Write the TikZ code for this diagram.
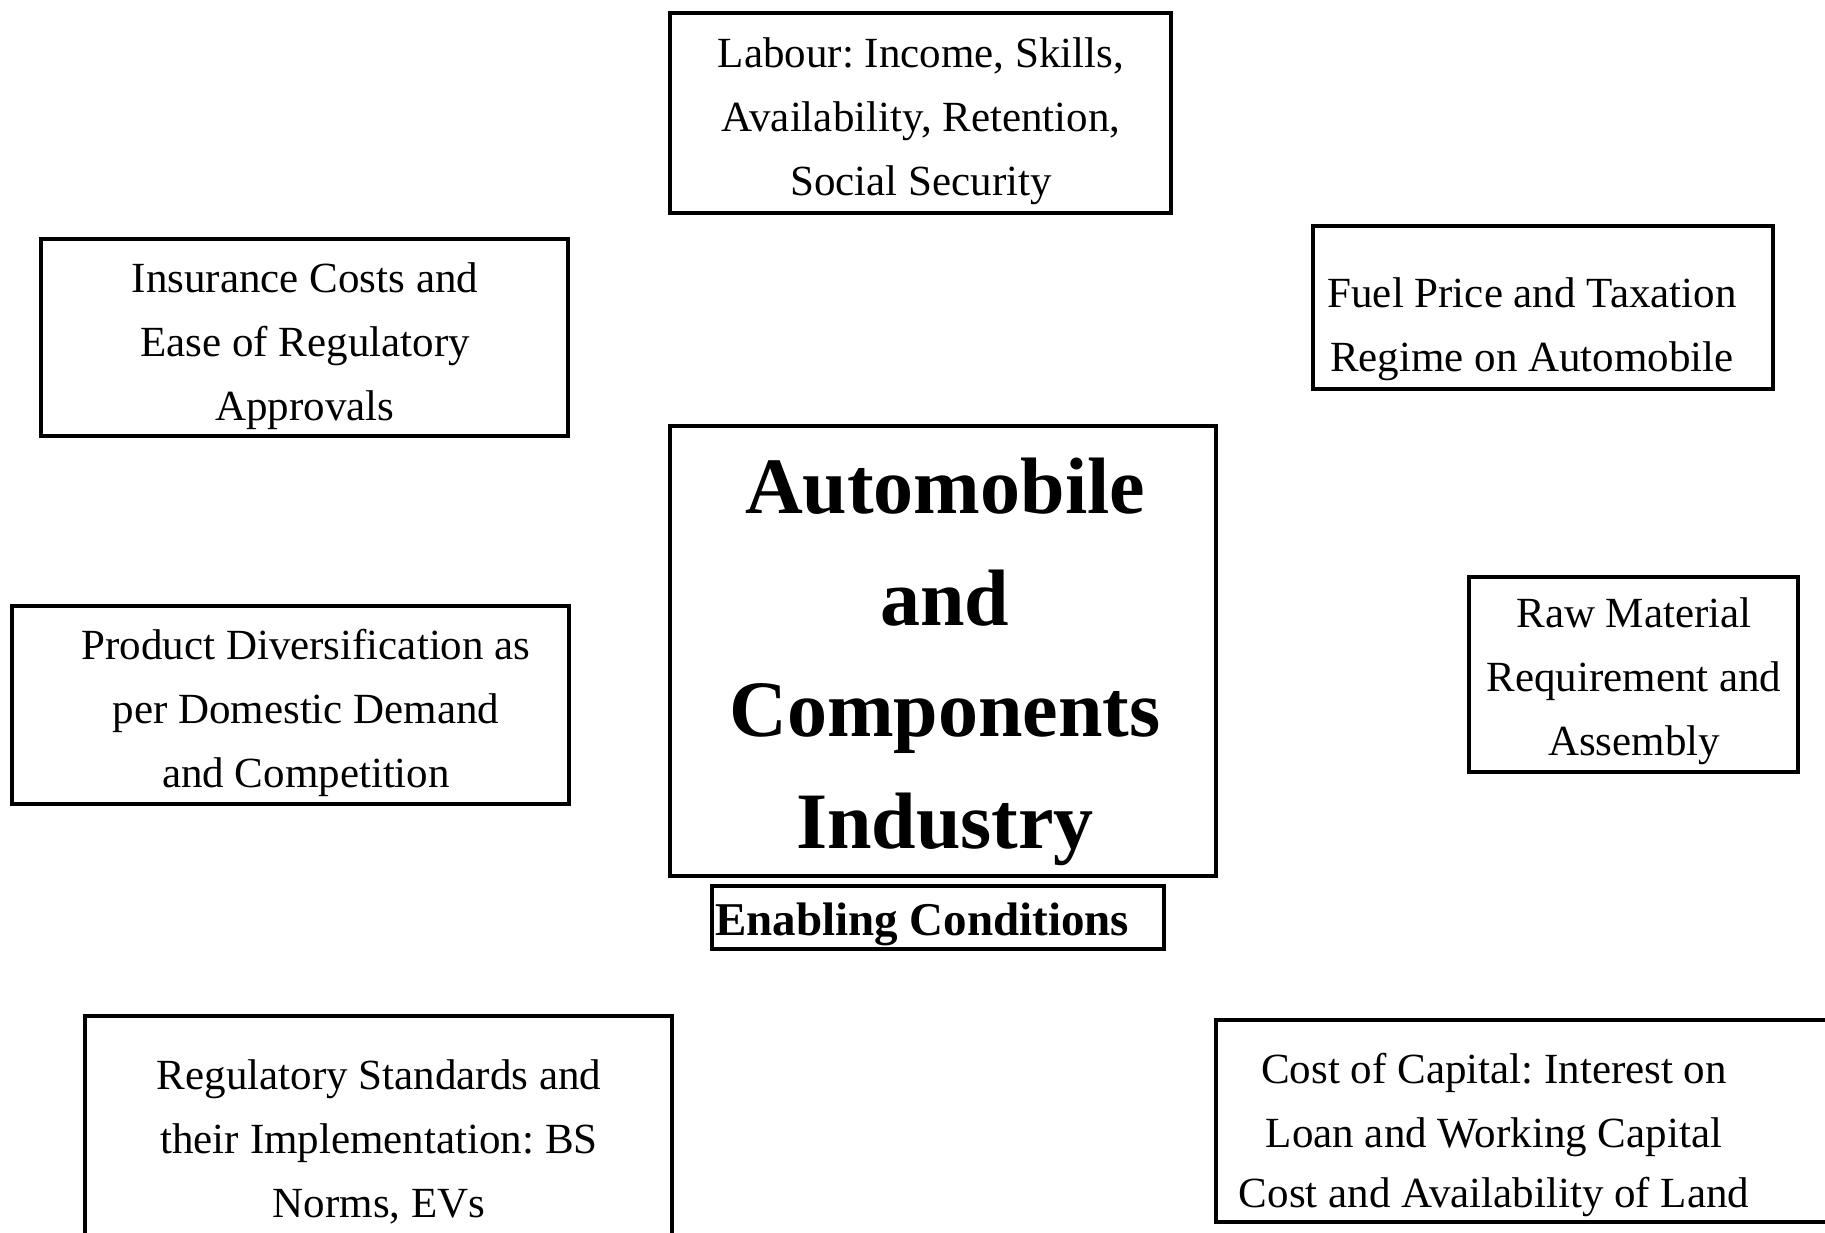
\documentclass[tikz,border=0pt]{standalone}
\usepackage{fontspec}
\setmainfont{Liberation Serif}
\frenchspacing
\begin{document}
\begin{tikzpicture}[x=1pt,y=-1pt,
  box/.style={draw, line width=4pt, rectangle, inner sep=0pt},
  txt/.style={align=center, inner sep=0pt, font=\fontsize{43}{64}\selectfont},
  big/.style={align=center, inner sep=0pt, font=\bfseries\fontsize{80}{111.7}\selectfont},
  ecl/.style={inner sep=0pt, font=\bfseries\fontsize{47}{56}\selectfont}]
\useasboundingbox (0,0) rectangle (1825,1232);
\clip (0,0) rectangle (1825,1232);
% boxes
\node[box, minimum width=501pt, minimum height=200pt] (labour) at (920.5,113) {};
\node[box, minimum width=527pt, minimum height=197pt] (insur) at (304.5,337.5) {};
\node[box, minimum width=460pt, minimum height=163pt] (fuel) at (1543,307.5) {};
\node[box, minimum width=546pt, minimum height=450pt] (core) at (943,651) {};
\node[box, minimum width=452pt, minimum height=63pt] (enab) at (938,917.5) {};
\node[box, minimum width=557pt, minimum height=198pt] (prod) at (290.5,705) {};
\node[box, minimum width=329pt, minimum height=195pt] (raw) at (1633.5,674.5) {};
\node[box, minimum width=587pt, minimum height=244pt] (reg) at (378.5,1138) {};
\node[box, minimum width=634pt, minimum height=202pt] (cap) at (1533,1121) {};
% texts
\node[txt] (labourT) at (921,121) {Labour: Income, Skills,\\Availability, Retention,\\Social Security};
\node[txt] (insurT) at (305,346) {Insurance Costs and\\Ease of Regulatory\\Approvals};
\node[txt] (fuelT) at (1532,329) {Fuel Price and Taxation\\Regime on Automobile};
\node[big] (coreT) at (945,662) {Automobile\\and\\Components\\Industry};
\node[ecl, anchor=west] (enabT) at (715,924) {Enabling Conditions};
\node[txt] (prodT) at (306,713) {Product Diversification as\\per Domestic Demand\\and Competition};
\node[txt] (rawT) at (1634,681) {Raw Material\\Requirement and\\Assembly};
\node[txt] (regT) at (379,1142) {Regulatory Standards and\\their Implementation: BS\\Norms, EVs};
\node[txt] (capT) at (1494,1135) {Cost of Capital: Interest on\\Loan and Working Capital\\[-4pt]Cost and Availability of Land};
\end{tikzpicture}
\end{document}
